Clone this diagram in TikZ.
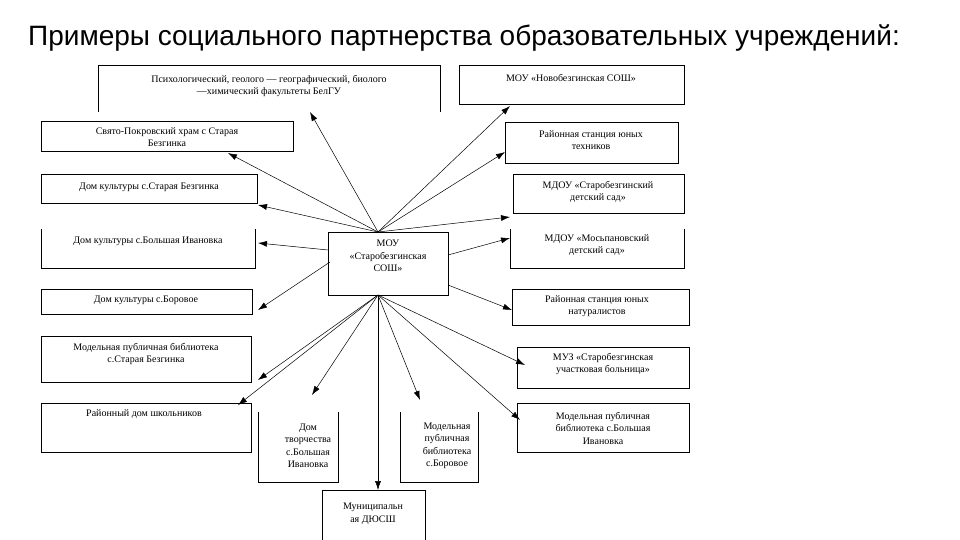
\documentclass[tikz,border=0pt]{standalone}
\usepackage{fontspec}
\setmainfont{Liberation Serif}
\newfontfamily\titlefont{Liberation Sans}
\usetikzlibrary{arrows.meta}
\begin{document}
\begin{tikzpicture}[x=1pt,y=-1pt,
  bx/.style={draw,line width=0.6pt},
  lbl/.style={font=\fontsize{10}{12.5}\selectfont,align=center,inner sep=0pt},
  ar/.style={-{Latex[length=9pt,width=6pt]},line width=0.5pt}]
\useasboundingbox (0,0) rectangle (960,540);
\node[anchor=west,font=\titlefont\fontsize{28}{32}\selectfont,inner sep=0pt] (title) at (28,38) {Примеры социального партнерства образовательных учреждений:};
% boxes
\draw[bx] (98,112) -- (98,65) -- (440,65) -- (440,112);
\node[lbl] (t1) at (269,86) {Психологический, геолого — географический, биолого\\—химический факультеты БелГУ};
\draw[bx] (459,65) rectangle (684,104); \node[lbl] (t2) at (571,78) {МОУ «Новобезгинская СОШ»};
\draw[bx] (41,121) rectangle (293,151); \node[lbl] (l1) at (167,137) {Свято-Покровский храм с Старая\\Безгинка};
\draw[bx] (505,122) rectangle (678,163); \node[lbl] (r1) at (591,140) {Районная станция юных\\техников};
\draw[bx] (41,174) rectangle (257,203); \node[lbl] (l2) at (149,187) {Дом культуры с.Старая Безгинка};
\draw[bx] (513,174) rectangle (684,213); \node[lbl] (r2) at (598,192) {МДОУ «Старобезгинский\\детский сад»};
\draw[bx] (41,229) -- (41,268) -- (255,268) -- (255,229); \node[lbl] (l3) at (148,241) {Дом культуры с.Большая Ивановка};
\draw[bx] (510,229) -- (510,268) -- (684,268) -- (684,229); \node[lbl] (r3) at (597,245) {МДОУ «Мосьпановский\\детский сад»};
\draw[bx] (328,232) rectangle (448,295); \node[lbl] (c) at (388,256) {МОУ\\«Старобезгинская\\СОШ»};
\draw[bx] (41,289) rectangle (252,314); \node[lbl] (l4) at (146,300) {Дом культуры с.Боровое};
\draw[bx] (512,289) rectangle (689,325); \node[lbl] (r4) at (597,306) {Районная станция юных\\натуралистов};
\draw[bx] (41,336) rectangle (251,382); \node[lbl] (l5) at (146,354) {Модельная публичная библиотека\\с.Старая Безгинка};
\draw[bx] (517,347) rectangle (689,388); \node[lbl] (r5) at (603,364) {МУЗ «Старобезгинская\\участковая больница»};
\draw[bx] (41,403) rectangle (251,452); \node[lbl] (l6) at (144,414) {Районный дом школьников};
\draw[bx] (517,403) rectangle (689,452); \node[lbl] (r6) at (603,428) {Модельная публичная\\библиотека с.Большая\\Ивановка};
\draw[bx] (258,412) -- (258,482) -- (338,482) -- (338,412); \node[lbl] (b1) at (308,446) {Дом\\творчества\\с.Большая\\Ивановка};
\draw[bx] (400,412) -- (400,482) -- (478,482) -- (478,412); \node[lbl] (b2) at (447,446) {Модельная\\публичная\\библиотека\\с.Боровое};
\draw[bx] (322,490) rectangle (425,540); \node[lbl] (b3) at (373,514) {Муниципальн\\ая ДЮСШ};
% connector endpoints
\coordinate (ht) at (378,232); \coordinate (hb) at (378,295);
\coordinate (hl) at (328,250); \coordinate (hr) at (448,255);
\coordinate (hll) at (330,262); \coordinate (hrl) at (448,285);
\draw[ar] (ht) -- (310,112);
\draw[ar] (ht) -- (510,106);
\draw[ar] (ht) -- (505,152);
\draw[ar] (ht) -- (228,153);
\draw[ar] (ht) -- (258,205);
\draw[ar] (ht) -- (510,217);
\draw[ar] (hl) -- (258,243);
\draw[ar] (hr) -- (510,238);
\draw[ar] (hll) -- (258,310);
\draw[ar] (hrl) -- (512,310);
\draw[ar] (hb) -- (258,380);
\draw[ar] (hb) -- (525,365);
\draw[ar] (hb) -- (238,405);
\draw[ar] (hb) -- (312,395);
\draw[ar] (hb) -- (378,490);
\draw[ar] (hb) -- (420,400);
\draw[ar] (hb) -- (520,420);
\end{tikzpicture}
\end{document}
